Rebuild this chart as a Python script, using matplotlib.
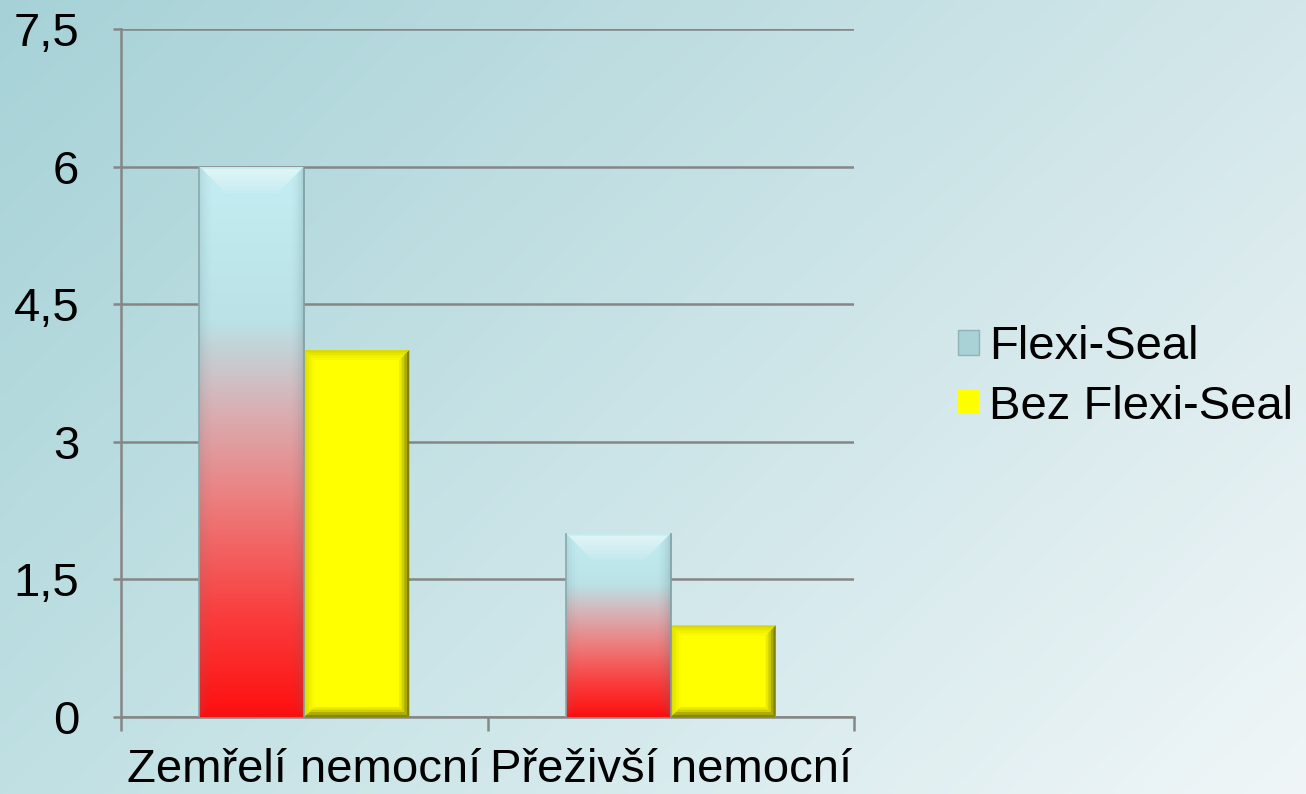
import numpy as np
import matplotlib
matplotlib.use("Agg")
import matplotlib.pyplot as plt
from matplotlib.patches import Patch, Polygon
from matplotlib.colors import LinearSegmentedColormap

# ---- data ----
categories = ["Zemřelí nemocní", "Přeživší nemocní"]
series_names = ["Flexi-Seal", "Bez Flexi-Seal"]
flexi_seal = [6, 2]
bez_flexi_seal = [4, 1]
y_ticks = [0, 1.5, 3, 4.5, 6, 7.5]
y_tick_labels = ["0", "1,5", "3", "4,5", "6", "7,5"]

plt.rcParams['font.family'] = ['Liberation Sans', 'DejaVu Sans']
FS = 34

W, H = 1306, 794
fig = plt.figure(figsize=(W / 100, H / 100), dpi=100)

# background gradient
bg = fig.add_axes([0, 0, 1, 1], zorder=-10)
tl = np.array([166, 210, 215]) / 255
tr = np.array([211, 231, 234]) / 255
bl = np.array([192, 224, 227]) / 255
br = np.array([240, 246, 248]) / 255
u = np.linspace(0, 1, 300)[None, :, None]
v = np.linspace(0, 1, 200)[:, None, None]
img = (1 - v) * ((1 - u) * tl + u * tr) + v * ((1 - u) * bl + u * br)
bg.imshow(img, aspect='auto', extent=[0, 1, 0, 1], interpolation='bilinear')
bg.set_axis_off()

L, R, T, B = 121, 854, 29, 717
ax = fig.add_axes([L / W, 1 - B / H, (R - L) / W, (B - T) / H])
ax.patch.set_alpha(0)
ax.set_xlim(-0.5, 1.5)
ax.set_ylim(0, 7.5)

gray = '#868686'
ax.set_yticks(y_ticks)
ax.set_yticklabels(y_tick_labels, fontsize=FS)
ax.yaxis.grid(True, color=gray, linewidth=1.8, zorder=0)
ax.set_axisbelow(True)
ax.tick_params(axis='y', length=6, width=1.8, color=gray, pad=24, direction='out')

ax.set_xticks([-0.5, 0.5, 1.5])
ax.set_xticklabels(['', '', ''])
ax.tick_params(axis='x', which='major', length=10, width=1.8, color=gray, direction='out')
ax.set_xticks([0, 1], minor=True)
ax.set_xticklabels(categories, minor=True, fontsize=FS)
ax.tick_params(axis='x', which='minor', length=0, pad=22)

for s in ['top', 'right']:
    ax.spines[s].set_visible(False)
for s in ['left', 'bottom']:
    ax.spines[s].set_color(gray)
    ax.spines[s].set_linewidth(1.8)
    ax.spines[s].set_zorder(1)

bw = 105 / 366.5
x = np.arange(len(categories))
dxp = 2.0 / (R - L)
dyp = 7.5 / (B - T)

# gradient colormap for Flexi-Seal
grad_cmap = LinearSegmentedColormap.from_list('fs', [
    (0.0, (255/255, 15/255, 15/255)),
    (0.18, (250/255, 60/255, 60/255)),
    (0.40, (236/255, 128/255, 128/255)),
    (0.56, (216/255, 176/255, 180/255)),
    (0.72, (186/255, 226/255, 231/255)),
    (1.0, (196/255, 238/255, 243/255)),
])

bars1 = ax.bar(x - bw / 2, flexi_seal, bw, color='none', edgecolor='none', zorder=2)
bars2 = ax.bar(x + bw / 2, bez_flexi_seal, bw, color='#ffff00', edgecolor='none', zorder=2)


def frame(ax, x0, x1, y0, y1, px, alphas, sides, scale, z):
    """Bevel strips drawn as nested trapezoids."""
    n = len(alphas)
    for k, a in enumerate(alphas):
        ex0 = px * k / n * dxp
        ex1 = px * (k + 1) / n * dxp
        ey0 = px * k / n * dyp
        ey1 = px * (k + 1) / n * dyp
        a0 = (x0 + ex0, y0 + ey0); a1 = (x1 - ex0, y0 + ey0)
        a2 = (x1 - ex0, y1 - ey0); a3 = (x0 + ex0, y1 - ey0)
        b0 = (x0 + ex1, y0 + ey1); b1 = (x1 - ex1, y0 + ey1)
        b2 = (x1 - ex1, y1 - ey1); b3 = (x0 + ex1, y1 - ey1)
        polys = {
            'bottom': [a0, a1, b1, b0],
            'right': [a1, a2, b2, b1],
            'top': [a2, a3, b3, b2],
            'left': [a3, a0, b0, b3],
        }
        for s, c in sides.items():
            ax.add_patch(Polygon(polys[s], closed=True, facecolor=c,
                                 alpha=min(1, a * scale.get(s, 1)), edgecolor='none', zorder=z))


for b in bars1:
    x0, w, h = b.get_x(), b.get_width(), b.get_height()
    g = np.linspace(0, 1, 256)[:, None]
    im = ax.imshow(g, cmap=grad_cmap, origin='lower', aspect='auto',
                   extent=[x0, x0 + w, 0, h], zorder=2.1, interpolation='bilinear')
    im.set_clip_path(b)
    frame(ax, x0, x0 + w, 0, h, 12, [0.25, 0.15, 0.08, 0.03],
          {'left': '#5a7f85', 'right': '#4a6f75', 'bottom': '#803030'},
          {'left': 0.6, 'right': 0.8, 'bottom': 0.3}, 2.3)
    # soft top highlight (nested trapezoids)
    for k in range(8):
        d = 2 + k * 3.5
        ax.add_patch(Polygon([(x0 + 3 * dxp, h - 2 * dyp), (x0 + w - 3 * dxp, h - 2 * dyp),
                              (x0 + w - d * dxp, h - d * dyp), (x0 + d * dxp, h - d * dyp)],
                             closed=True, facecolor='white', alpha=0.09, edgecolor='none', zorder=2.4))
    ax.plot([x0, x0], [0, h], color='#8aa8ad', lw=1.2, zorder=2.5)
    ax.plot([x0 + w, x0 + w], [0, h], color='#7f9ea3', lw=1.2, zorder=2.5)

for b in bars2:
    x0, w, h = b.get_x(), b.get_width(), b.get_height()
    frame(ax, x0, x0 + w, 0, h, 10, [0.75, 0.5, 0.28, 0.12],
          {'left': '#707000', 'right': '#555500', 'bottom': '#555500', 'top': '#707000'},
          {'left': 0.3, 'right': 1.0, 'bottom': 0.95, 'top': 0.35}, 2.3)

handles = [Patch(facecolor='#a9d2d6', edgecolor='#8fb3b7'), Patch(facecolor='#ffff00', edgecolor='none')]
ax.legend(handles, series_names, loc='center left',
          bbox_to_anchor=((958 - L) / (R - L), (B - 377) / (B - T)),
          frameon=False, fontsize=FS, handlelength=0.45, handleheight=0.45, handletextpad=0.2,
          labelspacing=0.32, borderpad=0, borderaxespad=0)

fig.savefig('out.png', dpi=100)
